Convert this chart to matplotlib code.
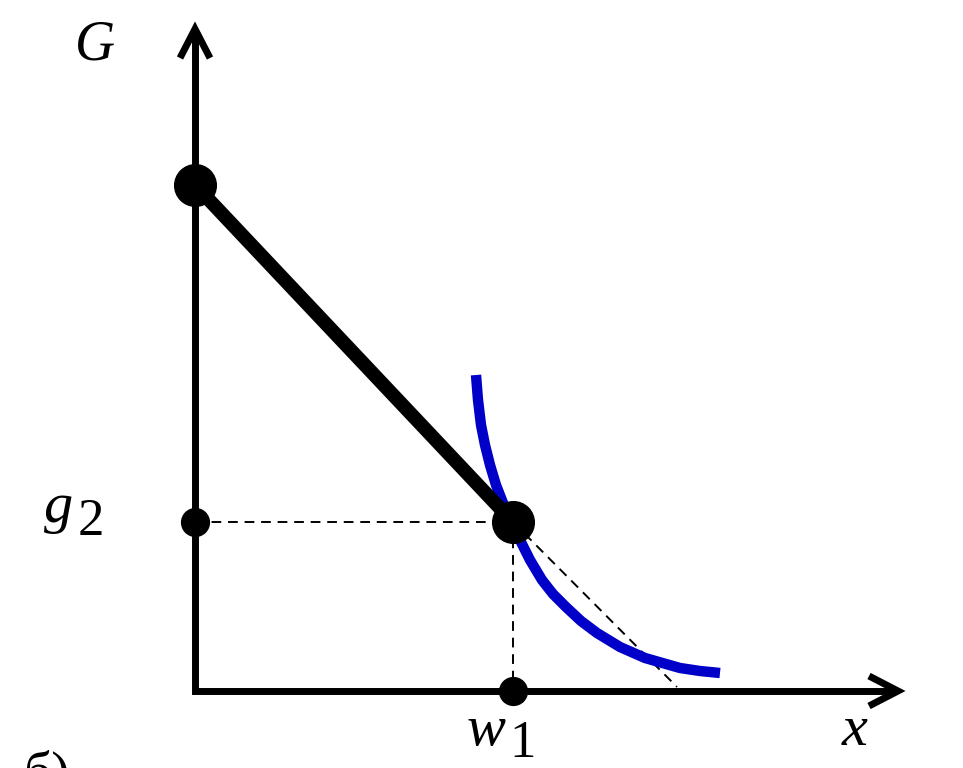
import matplotlib
matplotlib.use("Agg")
import matplotlib.pyplot as plt

# ---- data (abstract units; origin at the axes corner) ----
budget_x = [0.0, 3.18]
budget_y = [5.06, 1.69]
w1 = 3.18
g2 = 1.69
tangent_end = (4.82, 0.04)
curve_x = [2.81, 2.83, 2.86, 2.90, 2.95, 3.01, 3.08, 3.18, 3.25, 3.35, 3.47, 3.58,
           3.71, 3.86, 4.02, 4.25, 4.50, 4.85, 5.05, 5.25]
curve_y = [3.16, 2.91, 2.66, 2.46, 2.26, 2.06, 1.88, 1.69, 1.51, 1.31, 1.11, 0.97,
           0.84, 0.70, 0.58, 0.44, 0.33, 0.23, 0.20, 0.18]
x_axis_end = 7.03
y_axis_end = 6.62

fig = plt.figure(figsize=(9.63, 7.68), dpi=100)
ax = fig.add_axes([0, 0, 1, 1])
ax.set_xlim(-1.95, 7.68)
ax.set_ylim(-0.77, 6.91)
ax.axis("off")

# axes
ax.plot([0, 0, x_axis_end - 0.04], [y_axis_end - 0.04, 0, 0], color="black", lw=5,
        solid_joinstyle="miter", solid_capstyle="butt", zorder=2)
# arrowheads (open chevrons)
ax.plot([-0.15, 0, 0.15], [y_axis_end - 0.29, y_axis_end, y_axis_end - 0.29], color="black",
        lw=5, solid_joinstyle="miter", solid_capstyle="butt", zorder=2)
ax.plot([x_axis_end - 0.29, x_axis_end, x_axis_end - 0.29], [0.15, 0, -0.15], color="black",
        lw=5, solid_joinstyle="miter", solid_capstyle="butt", zorder=2)

# dashed guides
dash = (0, (5, 3.5))
ax.plot([0, w1], [g2, g2], color="black", lw=1.4, ls=dash, zorder=3)
ax.plot([w1, w1], [g2, 0], color="black", lw=1.4, ls=dash, zorder=3)
ax.plot([w1, tangent_end[0]], [g2, tangent_end[1]], color="black", lw=1.4, ls=dash, zorder=3)

# indifference curve
ax.plot(curve_x, curve_y, color="#0000c8", lw=7.5, solid_capstyle="butt",
        solid_joinstyle="round", zorder=4)

# budget line
ax.plot(budget_x, budget_y, color="black", lw=10, solid_capstyle="butt", zorder=5)

# points
ax.plot([budget_x[0], budget_x[1]], [budget_y[0], budget_y[1]], "o", color="black",
        markersize=30, zorder=6)
ax.plot([0, w1], [g2, 0], "o", color="black", markersize=20, zorder=6)

serif = "Liberation Serif"
ax.text(-1.0, 6.46, "G", fontsize=40, fontstyle="italic", family=serif, ha="center", va="center")
ax.text(-1.22, 1.69, "g", fontsize=42, fontstyle="italic", family=serif, ha="right", va="baseline")
ax.text(-1.17, 1.56, "2", fontsize=38, family=serif, ha="left", va="baseline")
ax.text(3.10, -0.54, "w", fontsize=42, fontstyle="italic", family=serif, ha="right", va="baseline")
ax.text(3.14, -0.66, "1", fontsize=38, family=serif, ha="left", va="baseline")
ax.text(6.60, -0.54, "x", fontsize=42, fontstyle="italic", family=serif, ha="center", va="baseline")
ax.text(-1.72, -1.0, "б)", fontsize=40, family=serif, ha="left", va="baseline")

fig.savefig("out.png", dpi=100)
